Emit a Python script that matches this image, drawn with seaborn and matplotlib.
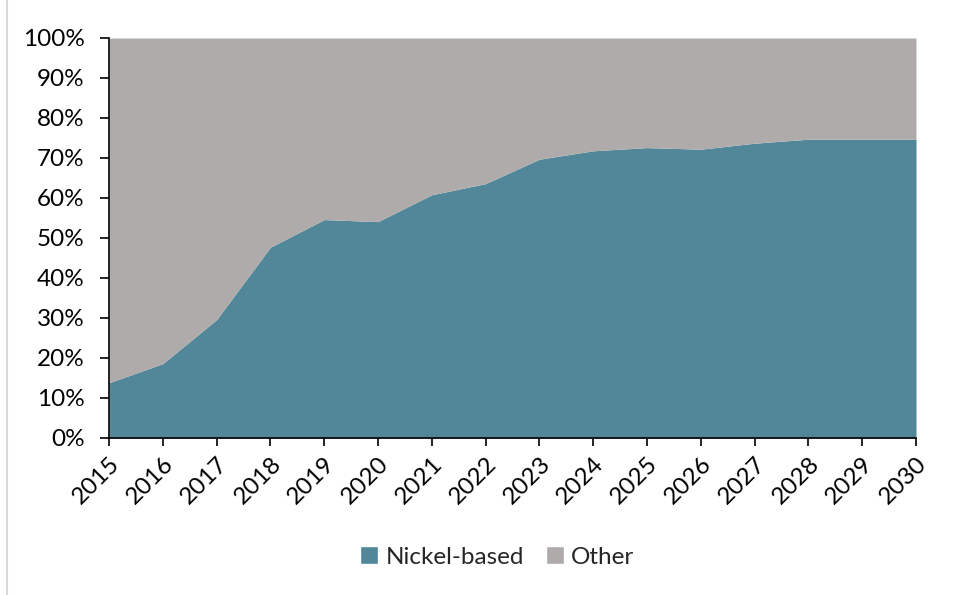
import numpy as np
import pandas as pd
import seaborn as sns
import matplotlib.pyplot as plt
from matplotlib.patches import Patch
from matplotlib.ticker import PercentFormatter
from matplotlib.lines import Line2D

# Données
years = list(range(2015, 2031))
nickel_based = [13.8, 18.6, 29.6, 47.7, 54.6, 54.1, 60.8, 63.6, 69.7, 71.8,
                72.6, 72.2, 73.7, 74.7, 74.7, 74.7]
other = [100 - v for v in nickel_based]

teal = "#528799"
grey = "#AFABAA"

sns.set_theme(style="white")
plt.rcParams['font.family'] = ['Lato', 'DejaVu Sans']

df = pd.DataFrame({'year': years, 'Nickel-based': nickel_based, 'Other': other})

fig = plt.figure(figsize=(9.54, 5.95), dpi=100)
ax = fig.add_axes([109 / 954, 1 - 438 / 595, (916 - 109) / 954, 400 / 595])

ax.stackplot(df['year'], df['Nickel-based'], df['Other'], colors=[teal, grey], linewidth=0)

ax.set_xlim(2015, 2030)
ax.set_ylim(0, 100)
ax.set_yticks(np.arange(0, 101, 10))
ax.yaxis.set_major_formatter(PercentFormatter(decimals=0))
ax.set_xticks(years)
ax.set_xticklabels([str(y) for y in years], rotation=45, ha='right',
                   rotation_mode='anchor', fontsize=17.5)
ax.tick_params(axis='y', labelsize=17.5, length=6.5, width=1.2, direction='out',
               left=True, colors='black', pad=11)
ax.tick_params(axis='x', length=6, width=1.2, direction='out', bottom=True,
               colors='black', pad=5)

for side in ['top', 'right']:
    ax.spines[side].set_visible(False)
for side in ['left', 'bottom']:
    ax.spines[side].set_color('black')
    ax.spines[side].set_linewidth(1.2)
ax.set_xlabel('')
ax.set_ylabel('')

handles = [Patch(facecolor=teal, label='Nickel-based'),
           Patch(facecolor=grey, label='Other')]
fig.legend(handles=handles, loc='center', bbox_to_anchor=(497 / 954, 1 - 557 / 595),
           ncol=2, frameon=False, fontsize=17.5, handlelength=0.75, handleheight=0.75,
           handletextpad=0.3, columnspacing=0.9)

# bordure gauche du cadre
fig.add_artist(Line2D([7 / 954, 7 / 954], [0, 1], color='#D9D9D9', linewidth=1.5,
                      transform=fig.transFigure))

fig.savefig("out.png", dpi=100)
plt.close(fig)
